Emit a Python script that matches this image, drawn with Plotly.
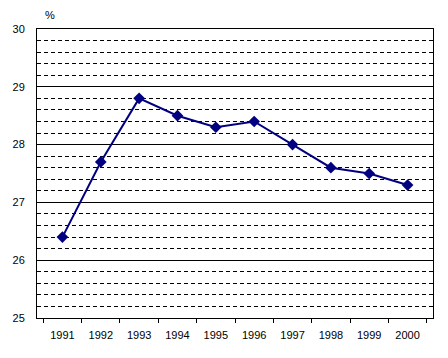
import plotly.graph_objects as go

years = ["1991", "1992", "1993", "1994", "1995", "1996", "1997", "1998", "1999", "2000"]
values = [26.4, 27.7, 28.8, 28.5, 28.3, 28.4, 28.0, 27.6, 27.5, 27.3]
y_ticks = [25, 26, 27, 28, 29, 30]

fig = go.Figure()
fig.add_trace(go.Scatter(
    x=years, y=values, mode="lines+markers",
    line=dict(color="#000080", width=2),
    marker=dict(symbol="diamond", size=9, color="#000080"),
    showlegend=False,
))

fig.update_layout(
    width=448, height=358,
    margin=dict(l=37, r=15, t=29, b=40, autoexpand=False),
    paper_bgcolor="white", plot_bgcolor="white",
    font=dict(family="Liberation Sans, Arial, sans-serif", size=11, color="#000000"),
    xaxis=dict(
        type="category", tickson="boundaries", automargin=False,
        showline=True, linecolor="black", linewidth=1, mirror=True,
        ticks="outside", ticklen=4, tickcolor="black",
        showgrid=False, ticklabelstandoff=7,
    ),
    yaxis=dict(
        range=[25, 30], tickvals=y_ticks, ticktext=[str(v) for v in y_ticks],
        automargin=False,
        showline=True, linecolor="black", linewidth=1, mirror=True,
        showgrid=True, gridcolor="black", gridwidth=1,
        ticks="", ticklabelstandoff=9,
        minor=dict(dtick=0.2, showgrid=True, gridcolor="black", gridwidth=1, griddash="4px,3px"),
        zeroline=False,
    ),
    annotations=[dict(text="%", x=0.015, y=1.0, xref="paper", yref="paper",
                      xanchor="left", yanchor="bottom", yshift=6, showarrow=False,
                      font=dict(size=11))],
)

fig.write_html("out.html", config={"displayModeBar": False},
               post_script="document.body.style.margin='0';")
